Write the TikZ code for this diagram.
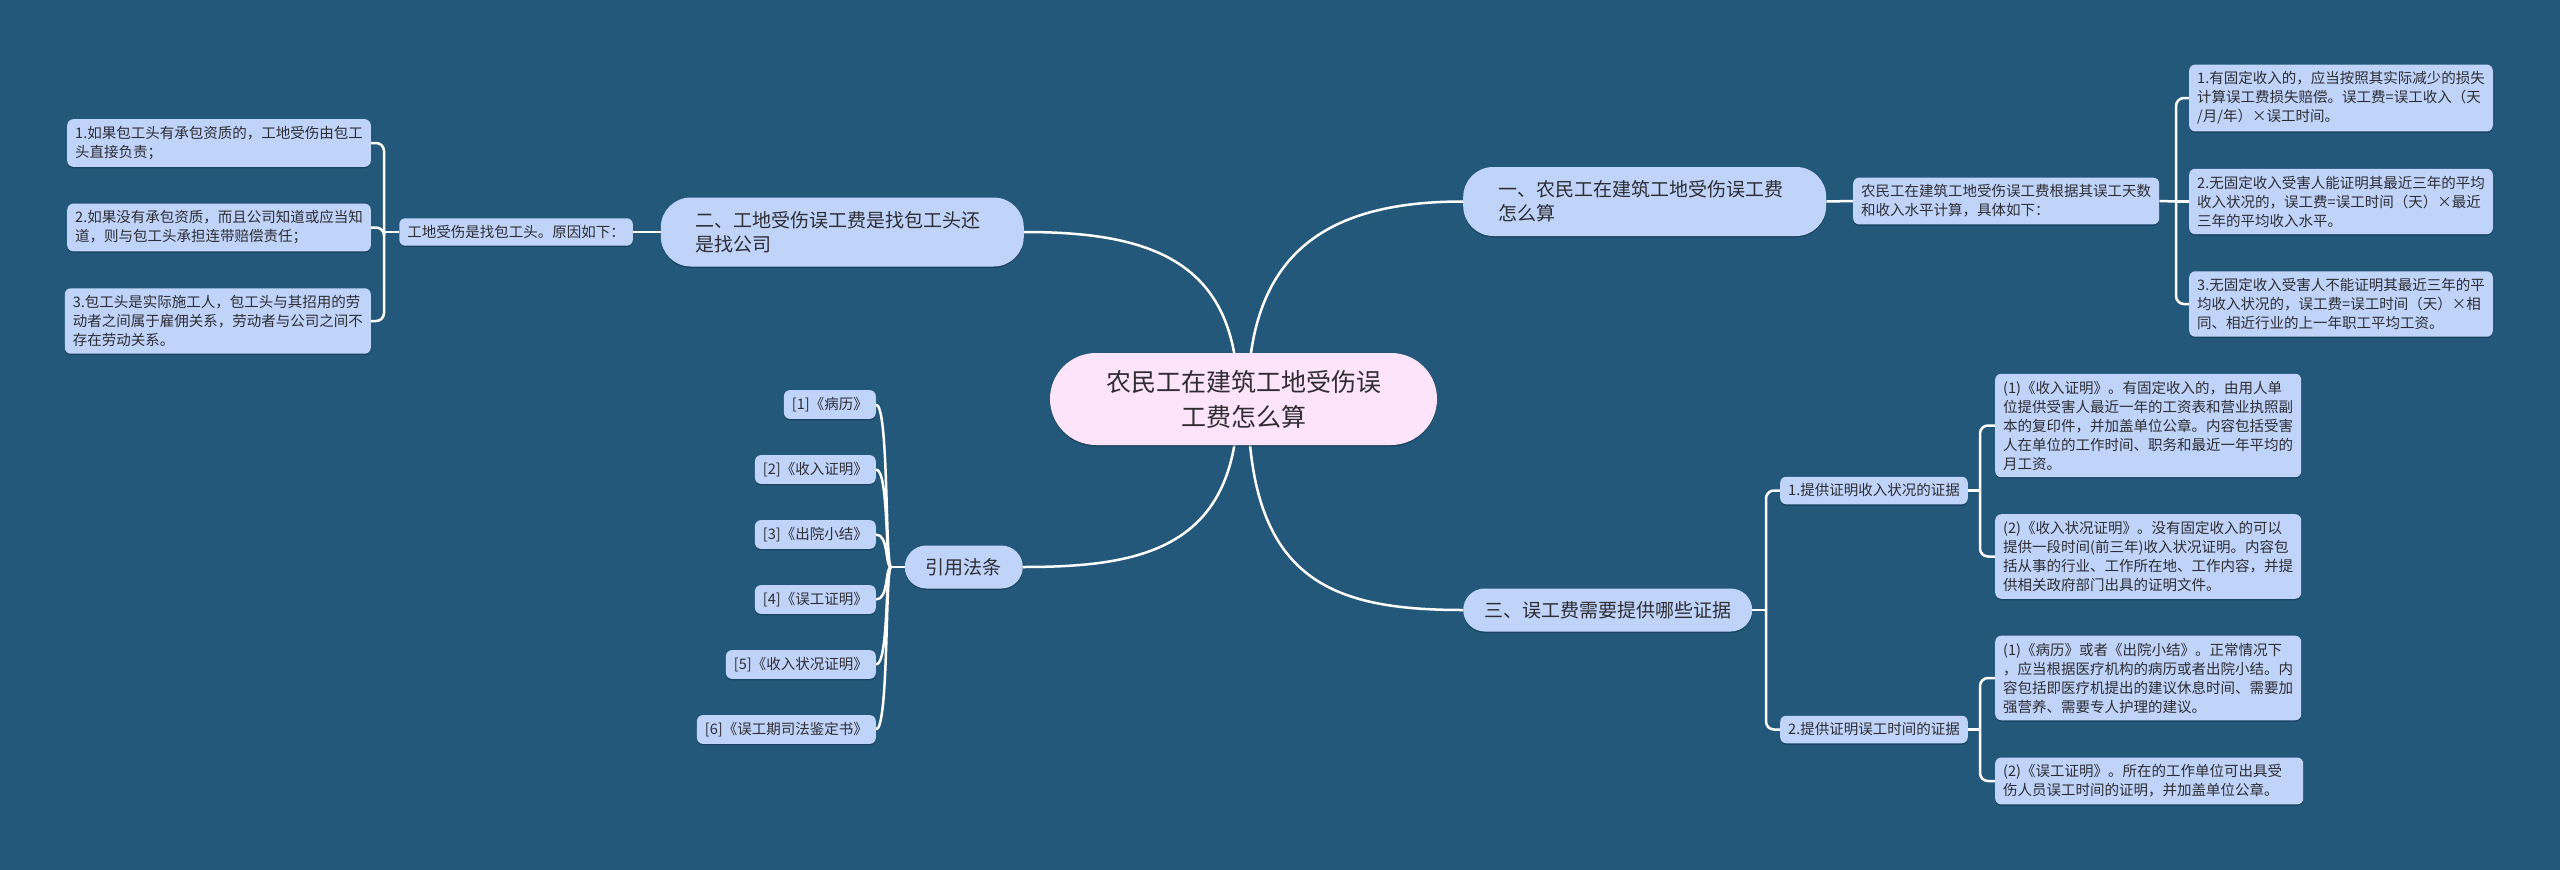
\documentclass[tikz,border=0pt]{standalone}
\usepackage{fontspec}
\setmainfont{Noto Sans CJK SC}
\usetikzlibrary{shadows}
\definecolor{bgc}{RGB}{36,88,122}
\definecolor{nblue}{RGB}{192,212,250}
\definecolor{npink}{RGB}{253,228,251}
\definecolor{ntext}{RGB}{45,45,50}
\definecolor{shd}{RGB}{20,55,80}
\pgfdeclarelayer{back}
\pgfdeclarelayer{bg}
\pgfsetlayers{back,bg,main}
\tikzset{
  shadowed/.style={drop shadow={shadow xshift=0pt,shadow yshift=-1.5pt,opacity=0.6,fill=shd}},
  leaf/.style={fill=nblue,rounded corners=6pt,inner xsep=8pt,inner ysep=7pt,align=left,
    font=\fontsize{14.5}{19}\selectfont,text=ntext,shadowed},
  branch/.style={fill=nblue,text=ntext,font=\fontsize{19}{24}\selectfont,shadowed},
  bigbranch/.style={branch,rounded corners=30pt,inner xsep=35pt,text width=293pt,align=left,minimum height=69pt},
  pillbranch/.style={branch,rounded corners=21.5pt,inner xsep=21pt,minimum height=43pt},
  conn/.style={draw=white,line width=2.5pt},
  brk/.style={conn,rounded corners=8pt},
}
\begin{document}
\begin{tikzpicture}[x=1pt,y=-1pt]
\begin{pgfonlayer}{back}
\fill[bgc] (0,0) rectangle (2560,870);
\end{pgfonlayer}
\useasboundingbox (0,0) rectangle (2560,870);

% center
\node[fill=npink,rounded corners=46pt,minimum width=387pt,minimum height=92pt,align=center,
  font=\fontsize{25}{35}\selectfont,text=ntext,shadowed] (ctr) at (1243.5,399) {农民工在建筑工地受伤误\\工费怎么算};
\coordinate (cR) at (1248,399);
\coordinate (cL) at (1238,399);

% main branches
\node[bigbranch,anchor=west] (b1) at (1463,201.5) {一、农民工在建筑工地受伤误工费\\怎么算};
\node[bigbranch,anchor=east] (b2) at (1024,232) {二、工地受伤误工费是找包工头还\\是找公司};
\node[pillbranch,anchor=west] (b3) at (1463,610) {三、误工费需要提供哪些证据};
\node[pillbranch,anchor=east] (b4) at (1023,567) {引用法条};

% branch 一
\node[leaf,anchor=west] (s1) at (1853,201) {农民工在建筑工地受伤误工费根据其误工天数\\和收入水平计算，具体如下：};
\node[leaf,anchor=west] (s1a) at (2189,98) {1.有固定收入的，应当按照其实际减少的损失\\计算误工费损失赔偿。误工费=误工收入（天\\/月/年）×误工时间。};
\node[leaf,anchor=west] (s1b) at (2189,201.5) {2.无固定收入受害人能证明其最近三年的平均\\收入状况的，误工费=误工时间（天）×最近\\三年的平均收入水平。};
\node[leaf,anchor=west] (s1c) at (2189,304) {3.无固定收入受害人不能证明其最近三年的平\\均收入状况的，误工费=误工时间（天）×相\\同、相近行业的上一年职工平均工资。};

% branch 二
\node[leaf,anchor=east] (s2) at (633,232) {工地受伤是找包工头。原因如下：};
\node[leaf,anchor=east] (a1) at (371,143) {1.如果包工头有承包资质的，工地受伤由包工\\头直接负责；};
\node[leaf,anchor=east] (a2) at (371,227.5) {2.如果没有承包资质，而且公司知道或应当知\\道，则与包工头承担连带赔偿责任；};
\node[leaf,anchor=east] (a3) at (371,321) {3.包工头是实际施工人，包工头与其招用的劳\\动者之间属于雇佣关系，劳动者与公司之间不\\存在劳动关系。};

% branch 三
\node[leaf,anchor=west] (c) at (1780,490.5) {1.提供证明收入状况的证据};
\node[leaf,anchor=west] (d) at (1780,729.5) {2.提供证明误工时间的证据};
\node[leaf,anchor=west] (c1) at (1995,425.5) {(1)《收入证明》。有固定收入的，由用人单\\位提供受害人最近一年的工资表和营业执照副\\本的复印件，并加盖单位公章。内容包括受害\\人在单位的工作时间、职务和最近一年平均的\\月工资。};
\node[leaf,anchor=west] (c2) at (1995,556.5) {(2)《收入状况证明》。没有固定收入的可以\\提供一段时间(前三年)收入状况证明。内容包\\括从事的行业、工作所在地、工作内容，并提\\供相关政府部门出具的证明文件。};
\node[leaf,anchor=west] (d1) at (1995,678) {(1)《病历》或者《出院小结》。正常情况下\\，应当根据医疗机构的病历或者出院小结。内\\容包括即医疗机提出的建议休息时间、需要加\\强营养、需要专人护理的建议。};
\node[leaf,anchor=west,text width=292pt] (d2) at (1995,781) {(2)《误工证明》。所在的工作单位可出具受\\伤人员误工时间的证明，并加盖单位公章。};

% 引用法条
\node[leaf,anchor=east] (r1) at (876,404.5) {[1]《病历》};
\node[leaf,anchor=east] (r2) at (876,469.5) {[2]《收入证明》};
\node[leaf,anchor=east] (r3) at (876,534.5) {[3]《出院小结》};
\node[leaf,anchor=east] (r4) at (876,599.5) {[4]《误工证明》};
\node[leaf,anchor=east] (r5) at (876,664.5) {[5]《收入状况证明》};
\node[leaf,anchor=east] (r6) at (876,729.5) {[6]《误工期司法鉴定书》};

\coordinate (j1) at (2176,201.5);
\coordinate (j2) at (384,232);
\coordinate (j3) at (1766,610);
\coordinate (j4) at (1980,490.5);
\coordinate (j5) at (1980,729.5);
\coordinate (j6) at (891,567);

\begin{pgfonlayer}{bg}
\draw[conn] (cR) .. controls (1248,250) and (1330,201.5) .. (b1.west);
\draw[conn] (cL) .. controls (1238,260) and (1150,232) .. (b2.east);
\draw[conn] (cR) .. controls (1248,580) and (1330,610) .. (b3.west);
\draw[conn] (cL) .. controls (1238,550) and (1140,567) .. (b4.east);

\draw[conn] (b1.east) -- (s1.west);
\draw[conn] (s1.east) -- (j1);
\draw[brk] (j1) |- (s1a.west);
\draw[conn] (j1) -- (s1b.west);
\draw[brk] (j1) |- (s1c.west);

\draw[conn] (b2.west) -- (s2.east);
\draw[conn] (s2.west) -- (j2);
\draw[brk] (j2) |- (a1.east);
\draw[brk] (j2) |- (a2.east);
\draw[brk] (j2) |- (a3.east);

\draw[conn] (b3.east) -- (j3);
\draw[brk] (j3) |- (c.west);
\draw[brk] (j3) |- (d.west);
\draw[conn] (c.east) -- (j4);
\draw[brk] (j4) |- (c1.west);
\draw[brk] (j4) |- (c2.west);
\draw[conn] (d.east) -- (j5);
\draw[brk] (j5) |- (d1.west);
\draw[brk] (j5) |- (d2.west);

\draw[conn] (b4.west) -- (j6);
\foreach \r in {r1,r2,r3,r4,r5,r6}
  \draw[conn] (j6) .. controls +(-6,0) and +(13,0) .. (\r.east);
\end{pgfonlayer}
\end{tikzpicture}
\end{document}
